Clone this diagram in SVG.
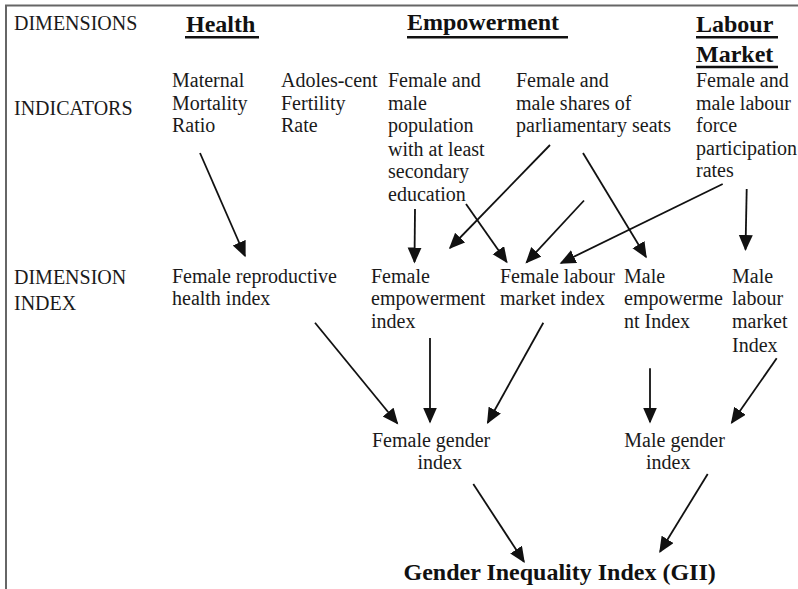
<svg xmlns="http://www.w3.org/2000/svg" width="798" height="589" viewBox="0 0 798 589">
<style>
text{font-family:"Liberation Serif","Times New Roman",serif;font-size:20px;fill:#1a1a1a}
.h{font-weight:bold;font-size:24px;fill:#111}
.ul{stroke:#111;stroke-width:2.6}
.frame{stroke:#666;stroke-width:2;fill:none}
.c line{stroke:#111;stroke-width:1.8}
</style>
<defs>
<marker id="ah" markerUnits="userSpaceOnUse" markerWidth="17" markerHeight="15" refX="14.5" refY="7" orient="auto">
<path d="M0,0 L16,7 L0,14 Z" fill="#111"/>
</marker>
</defs>
<rect width="798" height="589" fill="#fff"/>
<path class="frame" d="M6,589 V5.5 H798"/>

<g id="row-labels">
<text x="14" y="30">DIMENSIONS</text>
<text x="14" y="115">INDICATORS</text>
<text x="14" y="284">DIMENSION</text>
<text x="14" y="310">INDEX</text>
</g>

<g id="dim-health">
<text class="h" x="186" y="32">Health</text>
<line class="ul" x1="185" y1="37.3" x2="259" y2="37.3"/>
</g>
<g id="dim-empowerment">
<text class="h" x="407" y="29.5">Empowerment</text>
<line class="ul" x1="407" y1="37.3" x2="568" y2="37.3"/>
</g>
<g id="dim-labour">
<text class="h" x="696" y="32">Labour</text>
<line class="ul" x1="696" y1="37.3" x2="778" y2="37.3"/>
<text class="h" x="696" y="62">Market</text>
<line class="ul" x1="696" y1="67" x2="778" y2="67"/>
</g>

<g id="ind-mmr">
<text x="172" y="87">Maternal</text>
<text x="172" y="110">Mortality</text>
<text x="172" y="132">Ratio</text>
</g>
<g id="ind-afr">
<text x="281" y="87">Adoles-cent</text>
<text x="281" y="110">Fertility</text>
<text x="281" y="132">Rate</text>
</g>
<g id="ind-edu">
<text x="388" y="87">Female and</text>
<text x="388" y="110">male</text>
<text x="388" y="132">population</text>
<text x="388" y="155.5">with at least</text>
<text x="388" y="178">secondary</text>
<text x="388" y="201">education</text>
</g>
<g id="ind-parl">
<text x="516" y="87">Female and</text>
<text x="516" y="110">male shares of</text>
<text x="516" y="132">parliamentary seats</text>
</g>
<g id="ind-lfpr">
<text x="696" y="87">Female and</text>
<text x="696" y="110">male labour</text>
<text x="696" y="132">force</text>
<text x="696" y="155">participation</text>
<text x="696" y="177">rates</text>
</g>

<g id="idx-frh">
<text x="172" y="283">Female reproductive</text>
<text x="172" y="305">health index</text>
</g>
<g id="idx-femp">
<text x="371" y="283">Female</text>
<text x="371" y="305">empowerment</text>
<text x="371" y="328">index</text>
</g>
<g id="idx-flm">
<text x="500" y="283">Female labour</text>
<text x="500" y="305">market index</text>
</g>
<g id="idx-memp">
<text x="624" y="283">Male</text>
<text x="624" y="305">empowerme</text>
<text x="624" y="328">nt Index</text>
</g>
<g id="idx-mlm">
<text x="732" y="283">Male</text>
<text x="732" y="305">labour</text>
<text x="732" y="328">market</text>
<text x="732" y="352">Index</text>
</g>

<g id="fgi">
<text x="372" y="446.7">Female gender</text>
<text x="417.5" y="469.3">index</text>
</g>
<g id="mgi">
<text x="624.3" y="446.7">Male gender</text>
<text x="646" y="469.3">index</text>
</g>
<g id="gii">
<text class="h" x="403.5" y="580">Gender Inequality Index (GII)</text>
</g>

<g id="connectors" class="c">
<line x1="200" y1="153" x2="245" y2="256" marker-end="url(#ah)"/>
<line x1="415" y1="209" x2="414.5" y2="262" marker-end="url(#ah)"/>
<line x1="550" y1="145" x2="450" y2="248" marker-end="url(#ah)"/>
<line x1="466" y1="204" x2="506.7" y2="262" marker-end="url(#ah)"/>
<line x1="584" y1="200.5" x2="526.5" y2="262.5" marker-end="url(#ah)"/>
<line x1="583" y1="153" x2="646" y2="257" marker-end="url(#ah)"/>
<line x1="722.7" y1="184" x2="561" y2="263" marker-end="url(#ah)"/>
<line x1="746.7" y1="189" x2="745.5" y2="249.5" marker-end="url(#ah)"/>
<line x1="315" y1="322.7" x2="397.3" y2="423.3" marker-end="url(#ah)"/>
<line x1="430" y1="338" x2="430" y2="422" marker-end="url(#ah)"/>
<line x1="543.3" y1="322.7" x2="487.7" y2="422.7" marker-end="url(#ah)"/>
<line x1="650" y1="368.3" x2="650" y2="422" marker-end="url(#ah)"/>
<line x1="776.7" y1="358.3" x2="731.7" y2="422.7" marker-end="url(#ah)"/>
<line x1="473.3" y1="484" x2="524" y2="561.7" marker-end="url(#ah)"/>
<line x1="707.7" y1="474" x2="660" y2="551.7" marker-end="url(#ah)"/>
</g>
</svg>
